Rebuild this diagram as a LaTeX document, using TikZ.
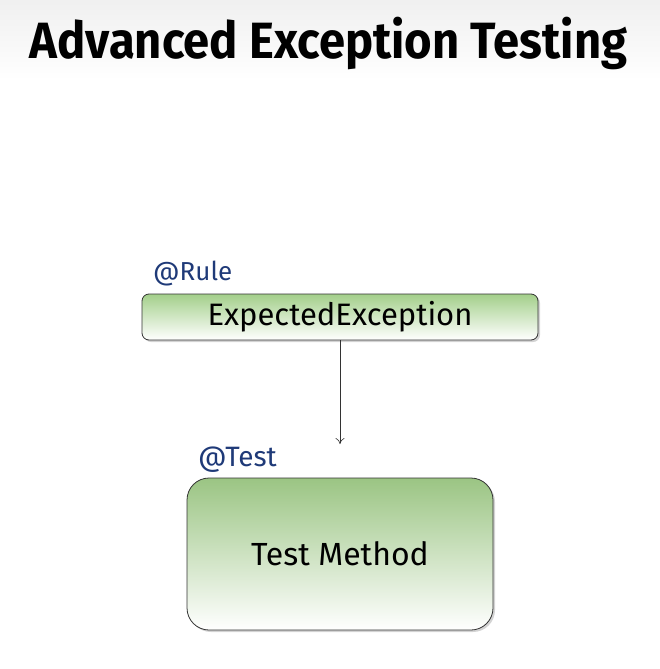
\documentclass[tikz,border=0pt]{standalone}
\usepackage{fontspec}
\setmainfont{Fira Sans}
\newfontfamily\titlefont{Fira Sans}
\usetikzlibrary{arrows.meta,shadows}
\definecolor{boxgreen}{HTML}{A3CF8A}
\definecolor{labblue}{HTML}{1F3A78}
\tikzset{
  gbox/.style={draw=black!80, line width=0.8pt, top color=boxgreen, bottom color=white,
     drop shadow={shadow xshift=2pt, shadow yshift=-2pt, opacity=0.35}},
  lab/.style={text=labblue, font=\fontsize{26}{28}\selectfont, anchor=base west, inner sep=0pt},
  conn/.style={draw=black!80, line width=0.6pt, -{To[length=6pt,width=9pt]}}
}
\begin{document}
\begin{tikzpicture}[x=1pt,y=-1pt]
\useasboundingbox (0,0) rectangle (660,669);
\shade[top color=black!6, bottom color=white] (0,0) rectangle (660,80);
\node[inner sep=0pt, anchor=base] (title) at (328.5,59)
  {\scalebox{0.925}[1]{\titlefont\bfseries\fontsize{51}{53}\selectfont Advanced Exception Testing}};
\node[gbox, rounded corners=7pt, minimum width=396pt, minimum height=46pt, inner sep=0pt,
  font=\fontsize{31}{33}\selectfont] (rule) at (340,317) {ExpectedException};
\node[gbox, rounded corners=22pt, minimum width=306pt, minimum height=152pt, inner sep=0pt,
  font=\fontsize{32}{34}\selectfont, top color=boxgreen!95!black, middle color=boxgreen!45, bottom color=white] (test) at (340,554) {Test Method};
\node[lab] (rulelab) at (153,280) {@Rule};
\node[lab, font=\fontsize{28}{30}\selectfont] (testlab) at (198,466) {@Test};
\coordinate (arrend) at (340,444);
\draw[conn] (rule.south) -- (arrend);
\end{tikzpicture}
\end{document}
